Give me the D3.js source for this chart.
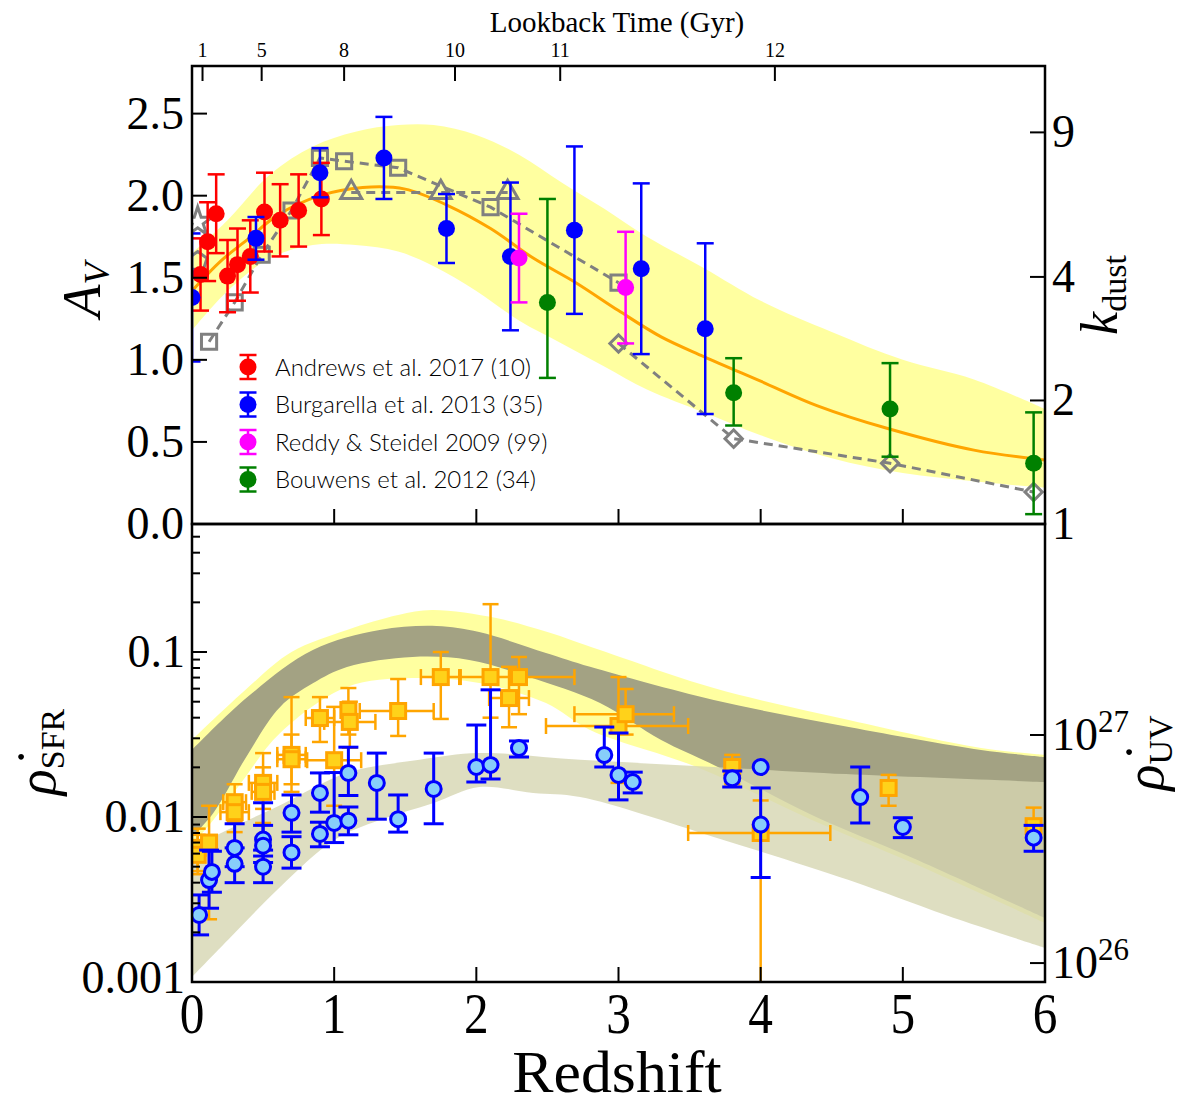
<!DOCTYPE html>
<html>
<head>
<meta charset="utf-8">
<script src="https://cdn.jsdelivr.net/npm/d3@7"></script>
<style>
  body { margin: 0; background: #fff; }
  svg text { font-family: "Liberation Serif", serif; fill: #000; }
  svg text.sans { font-family: "Lato", "DejaVu Sans", sans-serif; }
</style>
</head>
<body>
<svg id="chart" width="1200" height="1104"></svg>
<script>
// ---------- top panel: A_V vs redshift ----------
const zAndrews = [0.06, 0.11, 0.17, 0.25, 0.32, 0.41, 0.51, 0.62, 0.75, 0.91];
const avAndrews = [1.52, 1.72, 1.89, 1.51, 1.58, 1.63, 1.90, 1.85, 1.91, 1.98];
const errAndrews = [0.22, 0.24, 0.24, 0.22, 0.22, 0.22, 0.24, 0.22, 0.22, 0.22];

const zBurg = [0.0, 0.45, 0.90, 1.35, 1.79, 2.24, 2.69, 3.16, 3.61];
const avBurg = [1.38, 1.74, 2.14, 2.23, 1.80, 1.63, 1.79, 1.555, 1.19];
const errBurg = [0.39, 0.13, 0.15, 0.25, 0.21, 0.45, 0.51, 0.52, 0.52];

const zReddy = [2.30, 3.05];
const avReddy = [1.62, 1.44];
const errReddy = [0.27, 0.34];

const zBouwens = [2.50, 3.81, 4.91, 5.92];
const avBouwens = [1.35, 0.80, 0.70, 0.37];
const errLoBouwens = [0.46, 0.20, 0.29, 0.31];
const errHiBouwens = [0.63, 0.21, 0.28, 0.31];

// model median and range
const zModel = [0, 0.2, 0.4, 0.6, 0.9, 1.2, 1.5, 1.8, 2.1, 2.4, 2.7, 3.0, 3.3, 3.6, 4.0, 4.4, 4.9, 5.5, 6.0];
const avModel = [1.42, 1.60, 1.74, 1.88, 2.00, 2.05, 2.04, 1.94, 1.80, 1.62, 1.47, 1.30, 1.14, 1.02, 0.87, 0.72, 0.58, 0.45, 0.39];
const zRange = [0, 0.25, 0.55, 0.85, 1.15, 1.45, 1.7, 2.0, 2.3, 2.6, 2.9, 3.2, 3.6, 4.0, 4.5, 5.0, 5.5, 6.0];
const avRangeHi = [1.65, 1.85, 2.13, 2.30, 2.39, 2.43, 2.43, 2.37, 2.25, 2.08, 1.92, 1.75, 1.56, 1.36, 1.17, 1.00, 0.88, 0.70];
const avRangeLo = [1.18, 1.42, 1.62, 1.70, 1.70, 1.66, 1.57, 1.42, 1.24, 1.10, 0.96, 0.82, 0.68, 0.54, 0.40, 0.31, 0.26, 0.22];

// grey dashed comparison curves
const zGreySq = [0.12, 0.30, 0.49, 0.70, 0.90, 1.07, 1.45, 2.10, 3.00];
const avGreySq = [1.11, 1.35, 1.64, 1.91, 2.23, 2.21, 2.17, 1.93, 1.47];
const zGreyTri = [1.12, 1.75, 2.22];
const avGreyTri = [2.02, 2.02, 2.02];
const zGreyDia = [3.00, 3.81, 4.91, 5.92];
const avGreyDia = [1.10, 0.52, 0.37, 0.195];
const zGreyStar = [0.04];
const avGreyStar = [1.84];
const zGreyPent = [0.04];
const avGreyPent = [1.60];

const legendLabels = ["Andrews et al. 2017 (10)", "Burgarella et al. 2013 (35)", "Reddy & Steidel 2009 (99)", "Bouwens et al. 2012 (34)"];
const legendColors = ["#ff0000", "#0000ff", "#ff00ff", "#008000"];

// ---------- bottom panel: SFR density ----------
const zSq = [0.04, 0.04, 0.12, 0.30, 0.30, 0.50, 0.50, 0.70, 0.70, 0.90, 1.00, 1.10, 1.11, 1.45, 1.75, 2.10, 2.23, 2.30, 3.00, 3.05, 3.80, 4.00, 4.90, 5.92];
const sfrSq = [0.0065, 0.0059, 0.0070, 0.0123, 0.0107, 0.0161, 0.0142, 0.0238, 0.0224, 0.0398, 0.0221, 0.0445, 0.0377, 0.0439, 0.0705, 0.0705, 0.0526, 0.0705, 0.0356, 0.0420, 0.0201, 0.0080, 0.0150, 0.0088];
const sfrSqLo = [0.0045, 0.0047, 0.0024, 0.0093, 0.0081, 0.0112, 0.0092, 0.0142, 0.0158, 0.0285, 0.0117, 0.0316, 0.0263, 0.0310, 0.0393, 0.0400, 0.0350, 0.0420, 0.0161, 0.0316, 0.0158, 0.0008, 0.0117, 0.0073];
const sfrSqHi = [0.0085, 0.0078, 0.0117, 0.0158, 0.0132, 0.0244, 0.0200, 0.0533, 0.0316, 0.0533, 0.0465, 0.0605, 0.0500, 0.0686, 0.1000, 0.1950, 0.0813, 0.0933, 0.0705, 0.0597, 0.0238, 0.0126, 0.0180, 0.0114];
const zSqLo = [0.01, 0.01, 0.07, 0.22, 0.20, 0.40, 0.42, 0.60, 0.60, 0.80, 0.81, 1.05, 0.93, 1.18, 1.61, 1.88, 2.09, 2.30, 2.49, 2.69, 3.80, 3.49, 4.90, 5.92];
const zSqHi = [0.07, 0.07, 0.17, 0.38, 0.40, 0.60, 0.58, 0.80, 0.80, 1.00, 1.19, 1.15, 1.29, 1.70, 1.89, 2.69, 2.37, 2.30, 3.49, 3.39, 3.80, 4.49, 4.90, 5.92];

const zCirc = [0.05, 0.12, 0.14, 0.30, 0.30, 0.50, 0.50, 0.50, 0.70, 0.70, 0.90, 0.90, 1.00, 1.10, 1.10, 1.30, 1.45, 1.70, 2.00, 2.10, 2.30, 2.90, 3.00, 3.10, 3.80, 4.00, 4.00, 4.70, 5.00, 5.92];
const sfrCirc = [0.00255, 0.00415, 0.00465, 0.0065, 0.0052, 0.0073, 0.0067, 0.0050, 0.0106, 0.0061, 0.0140, 0.0079, 0.0092, 0.0185, 0.0095, 0.0161, 0.0097, 0.0148, 0.0201, 0.0207, 0.0262, 0.0238, 0.0180, 0.0163, 0.0172, 0.0201, 0.0090, 0.0132, 0.0087, 0.0075];
const sfrCircLo = [0.00193, 0.0028, 0.0035, 0.0050, 0.0040, 0.0058, 0.0053, 0.0040, 0.0081, 0.0049, 0.0107, 0.0066, 0.0070, 0.0135, 0.0078, 0.0097, 0.0081, 0.0091, 0.0163, 0.0170, 0.0231, 0.0201, 0.0127, 0.0140, 0.0152, 0.0201, 0.0043, 0.0092, 0.0075, 0.0062];
const sfrCircHi = [0.00337, 0.0063, 0.0062, 0.0091, 0.0065, 0.0122, 0.0089, 0.0063, 0.0136, 0.0076, 0.0185, 0.0093, 0.0186, 0.0265, 0.0115, 0.0244, 0.0136, 0.0244, 0.0361, 0.0590, 0.0289, 0.0351, 0.0323, 0.0187, 0.0190, 0.0201, 0.0150, 0.0201, 0.0099, 0.0089];

// model bands (bottom): intrinsic (yellow), grey core, attenuated (beige)
const zYelHi = [0, 0.39, 0.7, 1.09, 1.45, 1.69, 2.14, 2.5, 2.87, 3.67, 4.62, 5.55, 6.0];
const sfrYelHi = [0.0293, 0.0605, 0.100, 0.136, 0.1676, 0.1798, 0.1607, 0.1322, 0.1028, 0.0605, 0.0387, 0.0262, 0.0238];
const zYelLo = [0, 0.15, 0.35, 0.62, 1.09, 1.55, 2.02, 2.49, 2.8, 3.55, 4.36, 5.07, 6.0];
const sfrYelLo = [0.00676, 0.0096, 0.0163, 0.0323, 0.0614, 0.0695, 0.0649, 0.0491, 0.0337, 0.0201, 0.0096, 0.00526, 0.00228];
const zGreyHi = [0, 0.39, 0.85, 1.32, 1.72, 2.02, 2.49, 2.8, 3.67, 4.62, 5.55, 6.0];
const sfrGreyHi = [0.0255, 0.0533, 0.1028, 0.1358, 0.1439, 0.1321, 0.0986, 0.0813, 0.0512, 0.0351, 0.0255, 0.0231];
const zGreyLo = [0, 0.15, 0.39, 0.62, 0.85, 1.09, 1.55, 1.95, 2.37, 2.87, 3.3, 3.67, 4.36, 5.07, 6.0];
const sfrGreyLo = [0.00757, 0.01057, 0.0238, 0.0465, 0.0646, 0.0811, 0.0933, 0.0895, 0.0705, 0.0491, 0.0293, 0.0207, 0.0103, 0.00565, 0.00244];
const zBeigeHi = [0, 0.15, 0.62, 1.09, 1.6, 2.02, 2.73, 3.67, 4.6, 6.0];
const sfrBeigeHi = [0.0063, 0.00757, 0.0118, 0.0185, 0.0222, 0.0244, 0.0222, 0.0201, 0.0182, 0.0163];
const zBeigeLo = [0, 0.3, 0.62, 1.0, 1.32, 1.7, 2.02, 2.4, 2.73, 3.67, 4.62, 5.3, 6.0];
const sfrBeigeLo = [0.00107, 0.00198, 0.00377, 0.00726, 0.0096, 0.01216, 0.0152, 0.01397, 0.0132, 0.00757, 0.00415, 0.00255, 0.00161];

// ---------- axes ----------
const avTicks = [0, 0.5, 1.0, 1.5, 2.0, 2.5];
const kTicks = [1, 2, 4, 9];
const sfrTicks = [0.001, 0.01, 0.1];
const sfrTickLabels = ["0.001", "0.01", "0.1"];
const uvTicks = [1e26, 1e27];
const uvTickExp = ["26", "27"];
const zTicks = [0, 1, 2, 3, 4, 5, 6];
const lookbackTicks = [1, 5, 8, 10, 11, 12];
const lookbackZ = [0.074, 0.49, 1.07, 1.85, 2.59, 4.10];

const svg = d3.select("#chart");
const X = d3.scaleLinear().domain([0, 6]).range([192, 1045]);
const yA = d3.scaleLinear().domain([0, 2.79]).range([524, 66]);
const yK = k => yA(2.5 * Math.log10(k));
const yS = d3.scaleLog().domain([0.001, 0.597]).range([982, 524]);
const yU = d3.scaleLog().domain([8.26e25, 8.42e27]).range([982, 524]);

const defs = svg.append("defs");
defs.append("clipPath").attr("id", "clipTop").append("rect")
  .attr("x", X(0)).attr("y", yA(2.79)).attr("width", X(6) - X(0)).attr("height", yA(0) - yA(2.79));
defs.append("clipPath").attr("id", "clipBot").append("rect")
  .attr("x", X(0)).attr("y", yS(0.597)).attr("width", X(6) - X(0)).attr("height", yS(0.001) - yS(0.597));

const gTop = svg.append("g").attr("clip-path", "url(#clipTop)");
const gBot = svg.append("g").attr("clip-path", "url(#clipBot)");

// band helper: upper edge forward, lower edge back
function band(g, zU, vU, zL, vL, yScale, fill, opacity) {
  const line = d3.line().x(d => X(d[0])).y(d => yScale(d[1])).curve(d3.curveCatmullRom);
  const up = line(d3.zip(zU, vU));
  const lo = line(d3.zip(zL, vL).reverse());
  g.append("path").attr("d", up + "L" + lo.slice(1) + "Z")
    .attr("fill", fill).attr("fill-opacity", opacity).attr("stroke", "none");
}

// error bars (vertical, and optional horizontal)
function errorbars(g, zs, lo, hi, yScale, color, width, cap) {
  const idx = d3.range(zs.length);
  g.append("g").selectAll("line").data(idx).join("line")
    .attr("x1", i => X(zs[i])).attr("x2", i => X(zs[i]))
    .attr("y1", i => yScale(lo[i])).attr("y2", i => yScale(hi[i]))
    .attr("stroke", color).attr("stroke-width", width);
  [lo, hi].forEach(arr => {
    g.append("g").selectAll("line").data(idx.filter(i => lo[i] !== hi[i])).join("line")
      .attr("x1", i => X(zs[i]) - cap).attr("x2", i => X(zs[i]) + cap)
      .attr("y1", i => yScale(arr[i])).attr("y2", i => yScale(arr[i]))
      .attr("stroke", color).attr("stroke-width", width);
  });
}
function xerrorbars(g, zlo, zhi, vs, yScale, color, width, cap) {
  const idx = d3.range(vs.length).filter(i => zlo[i] !== zhi[i]);
  g.append("g").selectAll("line").data(idx).join("line")
    .attr("x1", i => X(zlo[i])).attr("x2", i => X(zhi[i]))
    .attr("y1", i => yScale(vs[i])).attr("y2", i => yScale(vs[i]))
    .attr("stroke", color).attr("stroke-width", width);
  [zlo, zhi].forEach(arr => {
    g.append("g").selectAll("line").data(idx).join("line")
      .attr("x1", i => X(arr[i])).attr("x2", i => X(arr[i]))
      .attr("y1", i => yScale(vs[i]) - cap).attr("y2", i => yScale(vs[i]) + cap)
      .attr("stroke", color).attr("stroke-width", width);
  });
}

// ----- top panel -----
band(gTop, zRange, avRangeHi, zRange, avRangeLo, yA, "#ffff80", 0.75);

gTop.append("path").datum(d3.zip(zModel, avModel))
  .attr("d", d3.line().x(d => X(d[0])).y(d => yA(d[1])).curve(d3.curveCatmullRom))
  .attr("fill", "none").attr("stroke", "#ffa500").attr("stroke-width", 3);

const pentagon = {
  draw(ctx, size) {
    const r = Math.sqrt(size / 2.38);
    for (let k = 0; k < 5; k++) {
      const a = -Math.PI / 2 + k * 2 * Math.PI / 5;
      if (k === 0) ctx.moveTo(r * Math.cos(a), r * Math.sin(a));
      else ctx.lineTo(r * Math.cos(a), r * Math.sin(a));
    }
    ctx.closePath();
  }
};

const greySeries = [
  { z: zGreySq, v: avGreySq, sym: d3.symbolSquare, size: 230, rot: 0 },
  { z: zGreyTri, v: avGreyTri, sym: d3.symbolTriangle, size: 190, rot: 0 },
  { z: zGreyDia, v: avGreyDia, sym: d3.symbolSquare, size: 150, rot: 45 },
  { z: zGreyStar, v: avGreyStar, sym: d3.symbolStar, size: 260, rot: 0 },
  { z: zGreyPent, v: avGreyPent, sym: pentagon, size: 230, rot: 0 }
];
greySeries.forEach(s => {
  const pts = d3.zip(s.z, s.v);
  if (pts.length > 1) {
    gTop.append("path").datum(pts)
      .attr("d", d3.line().x(d => X(d[0])).y(d => yA(d[1])))
      .attr("fill", "none").attr("stroke", "#808080").attr("stroke-width", 3)
      .attr("stroke-dasharray", "9,6");
  }
  gTop.append("g").selectAll("path").data(pts).join("path")
    .attr("d", d3.symbol().type(s.sym).size(s.size))
    .attr("transform", d => `translate(${X(d[0])},${yA(d[1])}) rotate(${s.rot})`)
    .attr("fill", "none").attr("stroke", "#808080").attr("stroke-width", 3);
});

function topSeries(zs, vs, eLo, eHi, color) {
  const lo = vs.map((v, i) => v - eLo[i]);
  const hi = vs.map((v, i) => v + eHi[i]);
  errorbars(gTop, zs, lo, hi, yA, color, 2.5, 8.5);
  gTop.append("g").selectAll("circle").data(d3.zip(zs, vs)).join("circle")
    .attr("cx", d => X(d[0])).attr("cy", d => yA(d[1])).attr("r", 8.5)
    .attr("fill", color);
}
topSeries(zAndrews, avAndrews, errAndrews, errAndrews, legendColors[0]);
topSeries(zBurg, avBurg, errBurg, errBurg, legendColors[1]);
topSeries(zReddy, avReddy, errReddy, errReddy, legendColors[2]);
topSeries(zBouwens, avBouwens, errLoBouwens, errHiBouwens, legendColors[3]);

// legend
const leg = svg.append("g");
legendLabels.forEach((lab, i) => {
  const ly = 367 + i * 37.5, lx = 248;
  leg.append("line").attr("x1", lx).attr("x2", lx).attr("y1", ly - 12).attr("y2", ly + 12)
    .attr("stroke", legendColors[i]).attr("stroke-width", 2.5);
  [-12, 12].forEach(o => leg.append("line").attr("x1", lx - 8.5).attr("x2", lx + 8.5)
    .attr("y1", ly + o).attr("y2", ly + o).attr("stroke", legendColors[i]).attr("stroke-width", 2.5));
  leg.append("circle").attr("cx", lx).attr("cy", ly).attr("r", 8.5).attr("fill", legendColors[i]);
  leg.append("text").attr("class", "sans")
    .attr("x", 275).attr("y", ly + 8.5)
    .attr("font-size", 24).attr("font-weight", 300).text(lab);
});

// ----- bottom panel -----
band(gBot, zYelHi, sfrYelHi, zYelLo, sfrYelLo, yS, "#ffff80", 0.75);
band(gBot, zGreyHi, sfrGreyHi, zGreyLo, sfrGreyLo, yS, "#a3a283", 1);
band(gBot, zBeigeHi, sfrBeigeHi, zBeigeLo, sfrBeigeLo, yS, "#d6d6b1", 0.8);

errorbars(gBot, zSq, sfrSqLo, sfrSqHi, yS, "#ffa500", 2.5, 8);
xerrorbars(gBot, zSqLo, zSqHi, sfrSq, yS, "#ffa500", 2.5, 8);
gBot.append("g").selectAll("rect").data(d3.zip(zSq, sfrSq)).join("rect")
  .attr("x", d => X(d[0]) - 7.5).attr("y", d => yS(d[1]) - 7.5)
  .attr("width", 15).attr("height", 15)
  .attr("fill", "#ffd21a").attr("stroke", "#ffa500").attr("stroke-width", 3);

errorbars(gBot, zCirc, sfrCircLo, sfrCircHi, yS, "#0000ff", 3, 10);
gBot.append("g").selectAll("circle").data(d3.zip(zCirc, sfrCirc)).join("circle")
  .attr("cx", d => X(d[0])).attr("cy", d => yS(d[1])).attr("r", 7.5)
  .attr("fill", "#87cefa").attr("stroke", "#0000ff").attr("stroke-width", 3);

// ----- frames & ticks -----
const ax = svg.append("g").attr("stroke", "#000");
[[yA(2.79), yA(0)], [yS(0.597), yS(0.001)]].forEach(([y0, y1]) => {
  ax.append("rect").attr("x", X(0)).attr("y", y0).attr("width", X(6) - X(0)).attr("height", y1 - y0)
    .attr("fill", "none").attr("stroke-width", 2.5);
  ax.append("g").selectAll("line").data(zTicks).join("line")
    .attr("x1", d => X(d)).attr("x2", d => X(d)).attr("y1", y1).attr("y2", y1 - 15).attr("stroke-width", 2);
});
ax.append("g").selectAll("line").data(avTicks).join("line")
  .attr("x1", X(0)).attr("x2", X(0) + 15).attr("y1", d => yA(d)).attr("y2", d => yA(d)).attr("stroke-width", 2);
ax.append("g").selectAll("line").data(kTicks).join("line")
  .attr("x1", X(6)).attr("x2", X(6) - 15).attr("y1", d => yK(d)).attr("y2", d => yK(d)).attr("stroke-width", 2);
ax.append("g").selectAll("line").data(lookbackZ).join("line")
  .attr("x1", d => X(d)).attr("x2", d => X(d)).attr("y1", yA(2.79)).attr("y2", yA(2.79) + 15).attr("stroke-width", 2);
const minor = [];
[0.001, 0.01, 0.1].forEach(dec => d3.range(2, 10).forEach(m => { if (dec * m < 0.597) minor.push(dec * m); }));
ax.append("g").selectAll("line").data(minor).join("line")
  .attr("x1", X(0)).attr("x2", X(0) + 8).attr("y1", d => yS(d)).attr("y2", d => yS(d)).attr("stroke-width", 2);
ax.append("g").selectAll("line").data(sfrTicks).join("line")
  .attr("x1", X(0)).attr("x2", X(0) + 15).attr("y1", d => yS(d)).attr("y2", d => yS(d)).attr("stroke-width", 2);
ax.append("g").selectAll("line").data(uvTicks).join("line")
  .attr("x1", X(6)).attr("x2", X(6) - 15).attr("y1", d => yU(d)).attr("y2", d => yU(d)).attr("stroke-width", 2);

// ----- tick labels -----
const lab = svg.append("g");
function txt(x, y, s, size, anchor, sx) {
  return lab.append("text").attr("transform", `translate(${x},${y}) scale(${sx || 1},1)`)
    .attr("text-anchor", anchor).attr("font-size", size).text(s);
}
avTicks.forEach(v => txt(184, yA(v) + 15, v.toFixed(1), 46, "end"));
sfrTicks.forEach((v, i) => txt(185, yS(v) + (v === 0.001 ? 11 : 15), sfrTickLabels[i], 46, "end"));
kTicks.forEach(k => txt(1052, yK(k) + 15, String(k), 46, "start"));
uvTicks.forEach((v, i) => {
  const t = txt(1052, yU(v) + 15, "10", 46, "start");
  t.append("tspan").attr("dy", -18).attr("font-size", 31).text(uvTickExp[i]);
});
zTicks.forEach(z => txt(X(z), 1033, String(z), 56, "middle", 0.88));
lookbackTicks.forEach((t, i) => txt(X(lookbackZ[i]), 57, String(t), 20, "middle"));
txt(617, 32, "Lookback Time (Gyr)", 29, "middle");
txt(617, 1092, "Redshift", 60, "middle", 1.03);

// ----- axis titles (rotated) -----
function rot(x, y) {
  return lab.append("text").attr("transform", `translate(${x},${y}) rotate(-90)`).attr("text-anchor", "middle");
}
let t = rot(100, 290).attr("font-size", 54);
t.append("tspan").attr("font-style", "italic").text("A");
t.append("tspan").attr("font-style", "italic").attr("font-size", 36).attr("dy", 9).text("V");

t = rot(1117, 295).attr("font-size", 52);
t.append("tspan").attr("font-style", "italic").text("k");
t.append("tspan").attr("font-size", 34).attr("dy", 9).text("dust");

t = rot(55, 752).attr("font-size", 54);
t.append("tspan").attr("font-style", "italic").text("\u03C1\u0307");
t.append("tspan").attr("font-size", 34).attr("dy", 9).text("SFR");

t = rot(1163, 753).attr("font-size", 54);
t.append("tspan").attr("font-style", "italic").text("\u03C1\u0307");
t.append("tspan").attr("font-size", 34).attr("dy", 9).text("UV");
</script>
</body>
</html>
